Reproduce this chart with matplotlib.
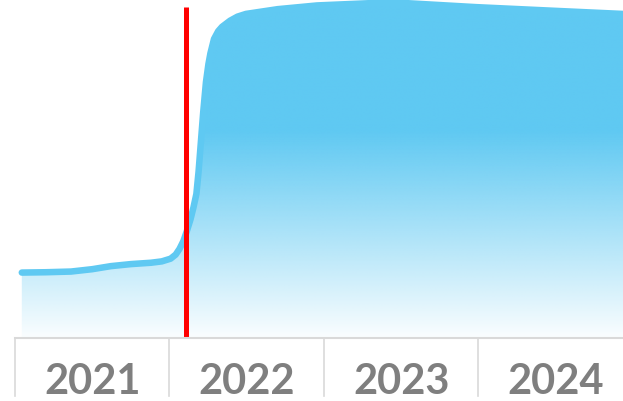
import matplotlib.pyplot as plt
import matplotlib.transforms as mtransforms
from matplotlib.patches import Polygon
import numpy as np

# Year categories along the bottom axis
years = ['2021', '2022', '2023', '2024']

# Series positions (in category units, year i centred on i) and values
x_pos = [-0.456, -0.300, -0.138, 0.000, 0.121, 0.250, 0.380, 0.450, 0.507,
         0.540, 0.565, 0.590, 0.612, 0.636, 0.655, 0.674, 0.688, 0.700,
         0.718, 0.736, 0.752, 0.765, 0.788, 0.815, 0.840, 0.892, 0.940,
         0.995, 1.200, 1.455, 1.817, 2.024, 2.484, 3.000, 3.429, 3.500]
values = [19.3, 19.4, 19.6, 20.3, 21.2, 21.8, 22.2, 22.6, 23.4,
          24.6, 26.3, 28.6, 31.5, 35.0, 38.5, 42.5, 49.0, 56.0,
          66.5, 75.5, 80.8, 84.0, 88.2, 90.5, 91.8, 93.6, 94.8,
          95.6, 97.0, 98.1, 98.8, 98.8, 97.6, 96.5, 95.6, 95.4]

# Position of the red marker line
marker_x = 0.61
marker_top = 97.5

blue = '#5FC9F2'
grid_grey = '#D9D9D9'
text_grey = '#7F7F7F'

fig = plt.figure(figsize=(6.23, 4.02), dpi=100)
ax = fig.add_axes([15 / 623, 63 / 402, 618 / 623, 339 / 402])
ax.set_xlim(-0.5, 3.5)
ax.set_ylim(0, 100)

# Gradient fill under the curve: solid blue at the top, fading to white at the base
ny = 400
yy = np.linspace(0, 1, ny)[:, None]
alpha = np.clip(yy / 0.61, 0, 1)
alpha = 0.03 + 0.97 * alpha
rgba = np.zeros((ny, 2, 4))
rgba[..., 0] = 0x5F / 255
rgba[..., 1] = 0xC9 / 255
rgba[..., 2] = 0xF2 / 255
rgba[..., 3] = alpha
img = ax.imshow(rgba, extent=[-0.5, 3.5, 0, 100], origin='lower',
                aspect='auto', interpolation='bilinear', zorder=1)
verts = list(zip(x_pos, values)) + [(x_pos[-1], 0), (x_pos[0], 0)]
clip = Polygon(verts, closed=True, facecolor='none', edgecolor='none')
ax.add_patch(clip)
img.set_clip_path(clip)

ax.plot(x_pos, values, color=blue, linewidth=4.7, solid_capstyle='round',
        solid_joinstyle='round', zorder=2)

ax.plot([marker_x, marker_x], [0, marker_top], color='#FF0000',
        linewidth=3.6, solid_capstyle='butt', zorder=3, clip_on=False)

# Category axis: baseline, separators and year labels
for s in ax.spines.values():
    s.set_visible(False)
ax.set_xticks([])
ax.set_yticks([])
trans = mtransforms.blended_transform_factory(ax.transData, ax.transAxes)
ax.plot([-0.5, 3.5], [0, 0], color=grid_grey, linewidth=1.5,
        transform=trans, clip_on=False, zorder=4)
sep_bottom = -58 / 339
for b in np.arange(len(years) + 1) - 0.5:
    ax.plot([b, b], [0, sep_bottom], color=grid_grey, linewidth=1.2,
            transform=trans, clip_on=False)
for i, label in enumerate(years):
    ax.text(i, -55 / 339, label, transform=trans, ha='center', va='baseline',
            fontsize=30, fontweight='bold', color=text_grey, family='Lato')

fig.savefig('out.png', dpi=100)
